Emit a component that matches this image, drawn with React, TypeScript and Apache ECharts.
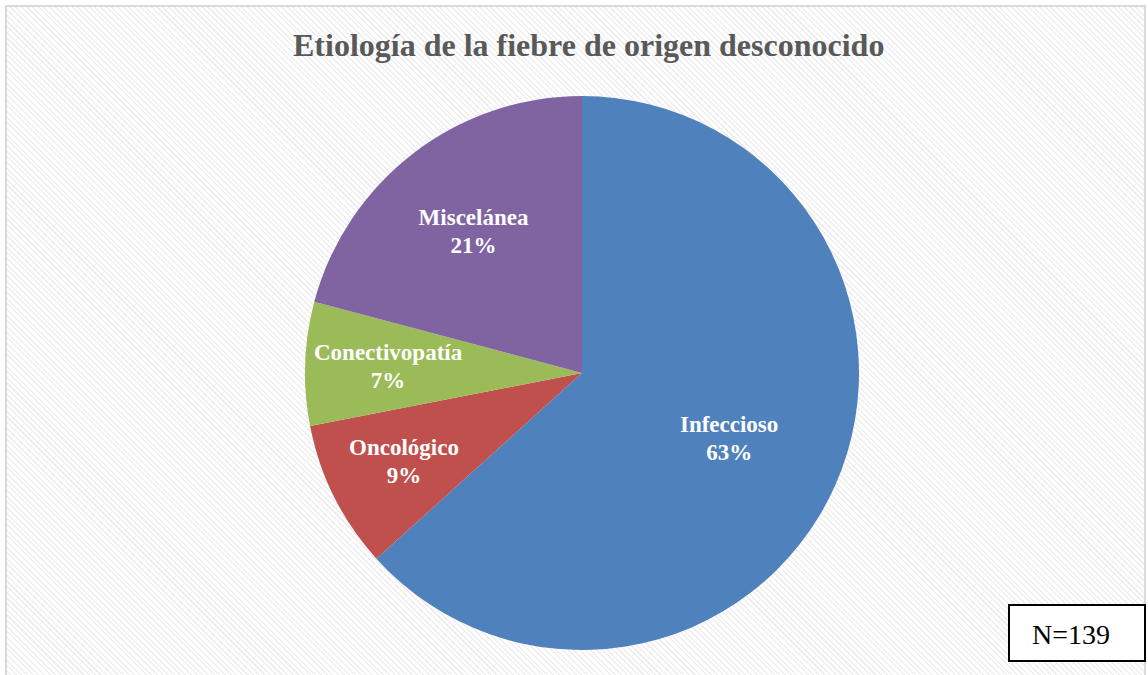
import React, { useEffect, useRef } from "react";
import * as echarts from "echarts";

const categories = ["Infeccioso", "Oncológico", "Conectivopatía", "Miscelánea"];
const counts = [88, 12, 10, 29];
const colors = ["#4f81bd", "#c0504d", "#9bbb59", "#8064a2"];
const labelRadii = [158, 196, 191, 175];
const titleText = "Etiología de la fiebre de origen desconocido";
const noteText = "N=139";

export default function App() {
  const ref = useRef<HTMLDivElement>(null);
  useEffect(() => {
    document.body.style.margin = "0";
    const chart = echarts.init(ref.current!, null, { renderer: "svg" });
    const data = categories.map((c, i) => ({ name: c, value: counts[i], itemStyle: { color: colors[i] } }));
    const labelSeries = categories.map((_, idx) => ({
      type: "pie",
      center: [582, 373],
      radius: [labelRadii[idx] - 5, labelRadii[idx] + 5],
      startAngle: 90,
      clockwise: true,
      silent: true,
      z: 5,
      itemStyle: { color: "rgba(0,0,0,0)" },
      labelLine: { show: false },
      data: categories.map((c, i) => ({
        name: c,
        value: counts[i],
        label: {
          show: i === idx,
          position: "inside",
          formatter: (p: any) => `${p.name}\n${Math.round(p.percent)}%`,
          color: "#ffffff",
          fontFamily: "Liberation Serif, 'Times New Roman', serif",
          fontWeight: "bold",
          fontSize: 23,
          lineHeight: 28,
        },
      })),
    }));
    chart.setOption({
      animation: false,
      title: {
        text: titleText,
        left: 288,
        top: 24,
        textStyle: {
          fontFamily: "Liberation Serif, 'Times New Roman', serif",
          fontWeight: "bold",
          fontSize: 32,
          color: "#595959",
        },
      },
      graphic: [
        {
          type: "rect",
          shape: { x: 1009, y: 605, width: 136, height: 56 },
          style: { fill: "#ffffff", stroke: "#000000", lineWidth: 2 },
        },
        {
          type: "text",
          x: 1071,
          y: 634,
          style: {
            text: noteText,
            fill: "#000000",
            font: "28px 'Liberation Serif', 'Times New Roman', serif",
            align: "center",
            verticalAlign: "middle",
          },
        },
      ],
      series: [
        {
          type: "pie",
          center: [582, 373],
          radius: [0, 277],
          startAngle: 90,
          clockwise: true,
          label: { show: false },
          labelLine: { show: false },
          data,
        },
        ...labelSeries,
      ],
    });
    return () => chart.dispose();
  }, []);
  return (
    <div style={{ position: "relative", width: 1148, height: 675, overflow: "hidden", background: "#ffffff" }}>
      <div
        style={{
          position: "absolute",
          left: 5,
          top: 5,
          width: 1141,
          height: 700,
          border: "2px solid #d9d9d9",
          boxSizing: "border-box",
          background:
            "repeating-linear-gradient(45deg, #ffffff 0px, #ffffff 1.5px, #efefef 1.5px, #efefef 3px, #ffffff 3px, #ffffff 4px)",
        }}
      />
      <div ref={ref} style={{ position: "absolute", left: 0, top: 0, width: 1148, height: 675 }} />
    </div>
  );
}
